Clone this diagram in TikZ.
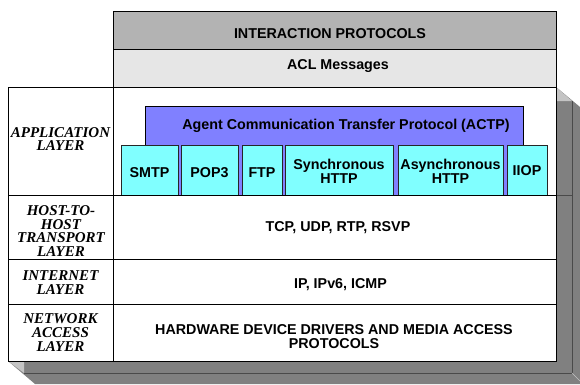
\documentclass[tikz,border=0pt]{standalone}
\usepackage{fontspec}
\setmainfont{Liberation Sans}
\newfontfamily\layerfont{Liberation Serif}
\definecolor{bandtop}{HTML}{B3B3B3}
\definecolor{bandacl}{HTML}{E6E6E6}
\definecolor{actpfill}{HTML}{8080FF}
\definecolor{protofill}{HTML}{80FFFF}
\definecolor{shadowmid}{HTML}{808080}
\definecolor{shadowlight}{HTML}{C4C4C4}
\definecolor{shadowline}{HTML}{4A4A4A}
\begin{document}
\begin{tikzpicture}[x=1pt,y=-1pt,
  cell/.style={draw=black, line width=0.8pt, fill=white, inner sep=0pt},
  label/.style={inner sep=0pt, align=center, font=\fontsize{14.3}{13.5}\selectfont\bfseries},
  layerlabel/.style={inner sep=0pt, align=center, font=\layerfont\fontsize{15}{13.6}\selectfont\bfseries\itshape},
  actpbox/.style={draw=black, line width=0.8pt, fill=actpfill, inner sep=0pt},
  protobox/.style={draw=black!85, line width=0.8pt, fill=protofill, inner sep=0pt, minimum height=50},
  protolabel/.style={label, font=\fontsize{14.3}{14}\selectfont\bfseries}]
\useasboundingbox (0,0) rectangle (580,384);

% extruded 3D shadow of the layer table
\fill[shadowmid] (556,87) -- (580,107) -- (580,384) -- (35,384) -- (8,361) -- (556,361) -- cycle;
\fill[shadowlight] (556,87) -- (572,101) -- (556,101) -- cycle;
\fill[shadowlight] (8,361) -- (24,361) -- (24,373) -- cycle;
\draw[shadowline, line width=0.6pt] (572,101) -- (572,373) -- (24,373);
\draw[shadowline, line width=0.6pt] (556,195) -- (572,195);
\draw[shadowlight, line width=0.5pt] (572,373) -- (580,381);

% upper bands
\node[cell, fill=bandtop, minimum width=443, minimum height=38] (interaction) at (334.5,30) {};
\node[cell, fill=bandacl, minimum width=443, minimum height=38] (acl) at (334.5,68) {};
\node[label] (interactiontext) at (330,34) {INTERACTION PROTOCOLS};
\node[label] (acltext) at (338,66) {ACL Messages};

% layer name cells
\node[cell, minimum width=105, minimum height=108] (applayer) at (60.5,141) {};
\node[cell, minimum width=105, minimum height=64] (translayer) at (60.5,227) {};
\node[cell, minimum width=105, minimum height=45] (netlayer) at (60.5,281.5) {};
\node[cell, minimum width=105, minimum height=57] (acclayer) at (60.5,332.5) {};
\node[layerlabel] (apptext) at (60.5,139) {APPLICATION\\LAYER};
\node[layerlabel] (transtext) at (61,231) {HOST-TO-\\HOST\\TRANSPORT\\LAYER};
\node[layerlabel] (nettext) at (60.5,282.5) {INTERNET\\LAYER};
\node[layerlabel] (acctext) at (60.5,332.5) {NETWORK\\ACCESS\\LAYER};

% layer content cells
\node[cell, minimum width=443, minimum height=108] (appcell) at (334.5,141) {};
\node[cell, minimum width=443, minimum height=64] (transcell) at (334.5,227) {};
\node[cell, minimum width=443, minimum height=45] (netcell) at (334.5,281.5) {};
\node[cell, minimum width=443, minimum height=57] (acccell) at (334.5,332.5) {};
\node[label] (transproto) at (338,228) {TCP, UDP, RTP, RSVP};
\node[label] (netproto) at (340.5,285) {IP, IPv6, ICMP};
\node[label] (accproto) at (334,336.5) {HARDWARE DEVICE DRIVERS AND MEDIA ACCESS\\PROTOCOLS};

% ACTP and the transfer protocols beneath it
\node[actpbox, minimum width=378, minimum height=89] (actp) at (334,150.5) {};
\node[label] (actptext) at (346,126) {Agent Communication Transfer Protocol (ACTP)};
\node[protobox, minimum width=57] (smtp) at (149.5,170) {};
\node[protobox, minimum width=57] (pop) at (209.5,170) {};
\node[protobox, minimum width=40] (ftp) at (262,170) {};
\node[protobox, minimum width=108] (shttp) at (339,170) {};
\node[protobox, minimum width=105] (ahttp) at (450.5,170) {};
\node[protobox, minimum width=40] (iiop) at (527,170) {};
\node[protolabel] (smtptext) at (smtp.center) [yshift=-3] {SMTP};
\node[protolabel] (poptext) at (pop.center) [yshift=-3] {POP3};
\node[protolabel] (ftptext) at (ftp.center) [yshift=-3] {FTP};
\node[protolabel] (shttptext) at (shttp.center) [yshift=-1] {Synchronous\\HTTP};
\node[protolabel] (ahttptext) at (ahttp.center) [yshift=-1] {Asynchronous\\HTTP};
\node[protolabel] (iioptext) at (iiop.center) [yshift=-1] {IIOP};
\draw[black, line width=0.8pt] (appcell.south west) -- (appcell.south east);
\end{tikzpicture}
\end{document}
